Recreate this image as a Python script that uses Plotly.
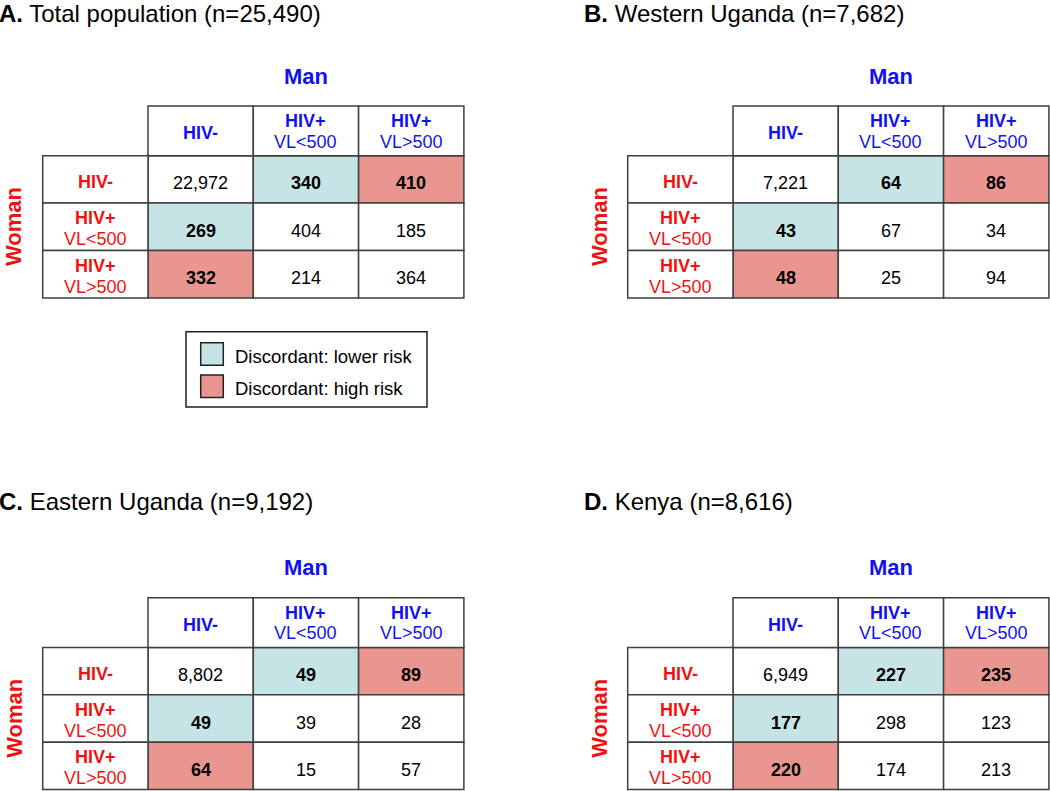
import plotly.graph_objects as go

# ---------------- data ----------------
panel_letters = ["A.", "B.", "C.", "D."]
panel_titles = ["Total population (n=25,490)", "Western Uganda (n=7,682)",
                "Eastern Uganda (n=9,192)", "Kenya (n=8,616)"]
counts_total = [[22972, 340, 410], [269, 404, 185], [332, 214, 364]]
counts_west = [[7221, 64, 86], [43, 67, 34], [48, 25, 94]]
counts_east = [[8802, 49, 89], [49, 39, 28], [64, 15, 57]]
counts_kenya = [[6949, 227, 235], [177, 298, 123], [220, 174, 213]]
panel_counts = [counts_total, counts_west, counts_east, counts_kenya]

man_label = "Man"
woman_label = "Woman"
status_line1 = ["HIV-", "HIV+", "HIV+"]
status_line2 = ["", "VL&lt;500", "VL&gt;500"]
# discordance class of each cell (row = woman, col = man)
discordance = [["", "low", "high"], ["low", "", ""], ["high", "", ""]]
legend_keys = ["low", "high"]
legend_labels = ["Discordant: lower risk", "Discordant: high risk"]

# ---------------- style / layout ----------------
W, H = 1050, 791
FILL = {"low": "#c6e3e6", "high": "#e8968f", "": "white"}
LINE = "#3f3f3f"
BLUE = "#1212f0"
RED = "#f01212"
FONT = "Liberation Sans, Arial, sans-serif"
TFONT = "Liberation Sans Narrow, Arial Narrow, Liberation Sans, Arial, sans-serif"
FS = 18
TS = 2.0                                 # cap-centre correction for 18px text (px)
CW, RH, HH = 105.3, 47.4, 49.7          # column width, body row height, header height (px)
origins = [(42.7, 106.0), (627.7, 106.0), (42.7, 597.7), (627.7, 597.7)]
title_xy = [(0.5, 21.0), (586.0, 21.0), (0.5, 508.5), (586.0, 508.5)]   # left, baseline (px)
# panel regions in px: (x0, x1, y0, y1)
regions = [(0, 560, 0, 440), (565, 1050, 0, 440), (0, 560, 460, 791), (565, 1050, 460, 791)]
legend_box = (186.0, 331.7, 427.0, 407.0)

fig = go.Figure()
annotations, shapes = [], []

for p in range(4):
    L, T = origins[p]
    sfx = "" if p == 0 else str(p + 1)
    xa, ya = "xaxis" + sfx, "yaxis" + sfx
    xr, yr = "x" + sfx, "y" + sfx

    def ux(px, L=L):
        return (px - L) / CW - 1.0

    def uy(py, T=T):
        return (py - T - HH) / RH

    x0p, x1p, y0p, y1p = regions[p]
    fig.update_layout({
        xa: dict(domain=[x0p / W, x1p / W], range=[ux(x0p), ux(x1p)], visible=False,
                 fixedrange=True),
        ya: dict(domain=[1 - y1p / H, 1 - y0p / H], range=[uy(y1p), uy(y0p)], visible=False,
                 fixedrange=True),
    })
    fig.add_trace(go.Scatter(x=[0], y=[0], xaxis=xr, yaxis=yr, mode="markers",
                             marker=dict(opacity=0), hoverinfo="skip", showlegend=False))

    hdr_top = -HH / RH
    counts = panel_counts[p]
    # body cells
    for r in range(3):
        for c in range(3):
            key = discordance[r][c]
            shapes.append(dict(type="rect", xref=xr, yref=yr, x0=c, x1=c + 1, y0=r, y1=r + 1,
                               fillcolor=FILL[key], line=dict(color=LINE, width=1.5),
                               layer="below"))
            txt = f"{counts[r][c]:,}"
            if key:
                txt = f"<b>{txt}</b>"
            annotations.append(dict(xref=xr, yref=yr, x=c + 0.5, y=r + 0.5 + (2 + TS) / RH,
                                    text=txt, showarrow=False,
                                    font=dict(family=FONT, size=FS, color="black")))
    # header row (man's status)
    for c in range(3):
        shapes.append(dict(type="rect", xref=xr, yref=yr, x0=c, x1=c + 1, y0=hdr_top, y1=0,
                           fillcolor="white", line=dict(color=LINE, width=1.5), layer="below"))
        yc = hdr_top / 2
        if status_line2[c]:
            annotations.append(dict(xref=xr, yref=yr, x=c + 0.5, y=yc + (-11.5 + TS) / RH,
                                    text=f"<b>{status_line1[c]}</b>", showarrow=False,
                                    font=dict(family=FONT, size=FS, color=BLUE)))
            annotations.append(dict(xref=xr, yref=yr, x=c + 0.5, y=yc + (8.8 + TS) / RH,
                                    text=status_line2[c], showarrow=False,
                                    font=dict(family=FONT, size=FS, color=BLUE)))
        else:
            annotations.append(dict(xref=xr, yref=yr, x=c + 0.5, y=yc + TS / RH,
                                    text=f"<b>{status_line1[c]}</b>", showarrow=False,
                                    font=dict(family=FONT, size=FS, color=BLUE)))
    # row label column (woman's status)
    for r in range(3):
        shapes.append(dict(type="rect", xref=xr, yref=yr, x0=-1, x1=0, y0=r, y1=r + 1,
                           fillcolor="white", line=dict(color=LINE, width=1.5), layer="below"))
        yc = r + 0.5
        if status_line2[r]:
            annotations.append(dict(xref=xr, yref=yr, x=-0.5, y=yc + (-10.5 + TS) / RH,
                                    text=f"<b>{status_line1[r]}</b>", showarrow=False,
                                    font=dict(family=FONT, size=FS, color=RED)))
            annotations.append(dict(xref=xr, yref=yr, x=-0.5, y=yc + (10.5 + TS) / RH,
                                    text=status_line2[r], showarrow=False,
                                    font=dict(family=FONT, size=FS, color=RED)))
        else:
            annotations.append(dict(xref=xr, yref=yr, x=-0.5, y=yc + (1 + TS) / RH,
                                    text=f"<b>{status_line1[r]}</b>", showarrow=False,
                                    font=dict(family=FONT, size=FS, color=RED)))
    # Man / Woman
    annotations.append(dict(xref=xr, yref=yr, x=1.5, y=uy(T - 30.3 + 0.5),
                            text=f"<b>{man_label}</b>", showarrow=False,
                            font=dict(family=FONT, size=22, color=BLUE)))
    annotations.append(dict(xref=xr, yref=yr, x=ux(L - 29.9 + 1.5), y=1.5,
                            text=f"<b>{woman_label}</b>", textangle=-90, showarrow=False,
                            font=dict(family=FONT, size=22, color=RED)))
    # title
    tx, tb = title_xy[p]
    annotations.append(dict(xref=xr, yref=yr, x=ux(tx), y=uy(tb - 7.5), xanchor="left",
                            xshift=-4, yanchor="middle", showarrow=False,
                            text=f"<b>{panel_letters[p]}</b> {panel_titles[p]}",
                            font=dict(family=TFONT, size=24, color="black")))

    if p == 0:
        bx0, by0, bx1, by1 = legend_box
        shapes.append(dict(type="rect", xref=xr, yref=yr, x0=ux(bx0), x1=ux(bx1),
                           y0=uy(by0), y1=uy(by1), fillcolor="white",
                           line=dict(color="#222222", width=1.5), layer="below"))
        for i, key in enumerate(legend_keys):
            sy = by0 + 11.0 + i * 32.3
            shapes.append(dict(type="rect", xref=xr, yref=yr, x0=ux(bx0 + 14.7), x1=ux(bx0 + 37.3),
                               y0=uy(sy), y1=uy(sy + 22.6), fillcolor=FILL[key],
                               line=dict(color="#222222", width=1.5), layer="above"))
            annotations.append(dict(xref=xr, yref=yr, x=ux(bx0 + 47), y=uy(sy + 11.5 + TS),
                                    xanchor="left", showarrow=False, text=legend_labels[i],
                                    font=dict(family=FONT, size=18.5, color="black")))

fig.update_layout(width=W, height=H, margin=dict(l=0, r=0, t=0, b=0),
                  paper_bgcolor="white", plot_bgcolor="white", showlegend=False,
                  annotations=annotations, shapes=shapes)
fig.write_html("out.html", config={"displayModeBar": False},
               post_script="document.body.style.margin='0';document.body.style.padding='0';")
